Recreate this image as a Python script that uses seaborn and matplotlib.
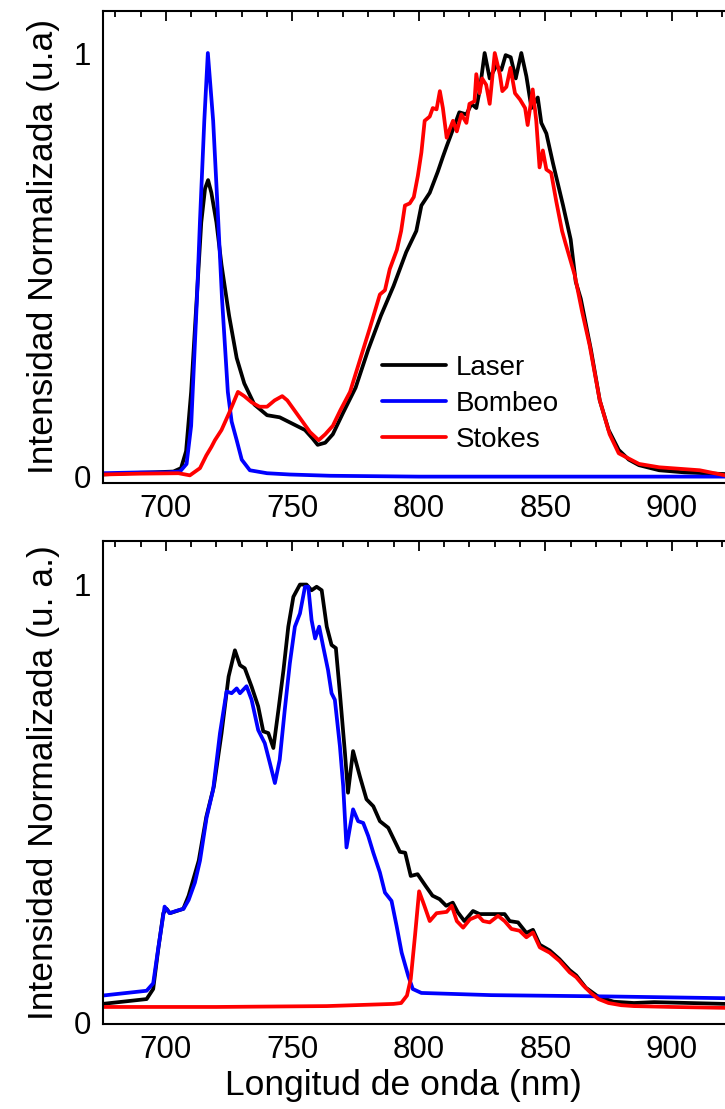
import numpy as np
import pandas as pd
import matplotlib
matplotlib.use("Agg")
import matplotlib.pyplot as plt
from matplotlib.ticker import MultipleLocator, FixedLocator
import seaborn as sns

# ---------------- data ----------------
# Top panel
wl_laser_top = [675, 685, 695, 703, 706, 708, 710, 712, 714, 715.5, 716.7, 718, 720, 722, 725, 728, 731, 735,
                740, 745, 750, 755, 758, 760, 763, 766, 770, 775, 780, 785, 790, 795, 799, 801, 804.3, 807.5,
                809.5, 811, 813.5, 816, 818.8, 820.8, 822.7, 824, 826, 828, 830.6, 832.6, 834.3, 836.3, 838.3,
                840.5, 842.5, 844.5, 847, 848.4, 850.4, 853, 855, 857, 860, 862, 864, 868, 871.5, 875, 879, 883,
                887, 895, 905, 921]
laser_top = [0.005, 0.008, 0.01, 0.012, 0.02, 0.06, 0.2, 0.4, 0.6, 0.68, 0.70, 0.67, 0.60, 0.50, 0.38, 0.28, 0.22,
             0.17, 0.145, 0.14, 0.125, 0.11, 0.09, 0.075, 0.08, 0.1, 0.15, 0.21, 0.30, 0.38, 0.45, 0.53, 0.58, 0.64,
             0.67, 0.72, 0.755, 0.78, 0.82, 0.86, 0.855, 0.88, 0.87, 0.91, 1.0, 0.94, 0.97, 0.96, 0.995, 0.99, 0.94,
             1.0, 0.945, 0.87, 0.895, 0.835, 0.81, 0.74, 0.69, 0.64, 0.56, 0.46, 0.42, 0.30, 0.18, 0.11, 0.063,
             0.04, 0.027, 0.015, 0.01, 0.006]

wl_bombeo_top = [675, 690, 700, 705.6, 708.2, 710, 712.3, 713.5, 715.2, 716.6, 718.7, 720.7, 722.2, 724.5, 726,
                 728, 730, 733.2, 740, 749, 765, 800, 850, 900, 921]
bombeo_top = [0.008, 0.01, 0.01, 0.012, 0.03, 0.12, 0.42, 0.605, 0.84, 1.0, 0.84, 0.605, 0.42, 0.2, 0.13, 0.086,
              0.04, 0.015, 0.008, 0.005, 0.002, 0.0, 0.0, 0.0, 0.0]

wl_stokes_top = [675, 690, 705, 709.5, 713.5, 716, 718, 719.4, 722, 725, 728.5, 731, 734, 737, 740, 743, 746, 748,
                 751, 754, 757, 760.4, 763, 766, 769, 772.8, 776.7, 780.6, 784.6, 786.6, 788.5, 791.3, 793, 794.5,
                 796.4, 798, 799.6, 801, 802.3, 804.3, 805.5, 807, 808.3, 809.5, 811, 812.2, 813.5, 815, 816.8,
                 818.8, 820, 822, 822.7, 824, 825, 826.6, 828, 830, 832, 833, 834.6, 836.2, 838, 840, 842, 843,
                 845, 846.4, 847.7, 849, 850.4, 852.3, 854.3, 856.6, 858, 861.6, 864.5, 867.5, 871.5, 875.4, 879,
                 887, 895, 911, 921]
stokes_top = [0.005, 0.007, 0.008, 0.003, 0.02, 0.05, 0.07, 0.086, 0.11, 0.15, 0.2, 0.19, 0.175, 0.165, 0.165,
              0.18, 0.19, 0.18, 0.155, 0.13, 0.105, 0.086, 0.1, 0.12, 0.157, 0.2, 0.275, 0.35, 0.43, 0.44, 0.49,
              0.535, 0.58, 0.64, 0.645, 0.66, 0.71, 0.765, 0.84, 0.85, 0.87, 0.867, 0.91, 0.87, 0.80, 0.82, 0.84,
              0.815, 0.855, 0.835, 0.88, 0.886, 0.95, 0.905, 0.94, 0.925, 0.88, 1.0, 0.95, 0.91, 0.92, 0.965, 0.905,
              0.89, 0.87, 0.83, 0.914, 0.84, 0.73, 0.77, 0.725, 0.717, 0.65, 0.58, 0.55, 0.476, 0.39, 0.31, 0.18,
              0.1, 0.055, 0.03, 0.022, 0.015, 0.003]

# Bottom panel
wl_laser_bot = [675, 692.4, 695, 697, 699, 700.3, 701.6, 704.3, 706.9, 709, 711, 713, 716, 719, 722, 724.8, 727.3,
                729.3, 731.2, 733.9, 736.5, 738.5, 740.5, 742.5, 744.5, 746.5, 748.4, 750.4, 753, 755.6, 757.6,
                759.6, 761.6, 763.6, 765.5, 767.2, 768.8, 770.8, 772, 774, 776.7, 779.3, 782, 784.6, 787.9, 790,
                792.5, 794.6, 796.8, 799.5, 802.7, 805.4, 808.2, 810.8, 813.4, 815.4, 818, 821.4, 824, 827, 830.6,
                833.9, 835.9, 839.2, 842.5, 845.1, 847.8, 851.7, 855.6, 859.6, 862.2, 866, 871, 877, 885, 893, 921]
laser_bot = [0.043, 0.054, 0.077, 0.168, 0.25, 0.26, 0.25, 0.255, 0.26, 0.29, 0.33, 0.37, 0.47, 0.54, 0.66, 0.79,
             0.85, 0.816, 0.809, 0.767, 0.722, 0.665, 0.661, 0.627, 0.714, 0.805, 0.904, 0.972, 1.0, 1.0, 0.987,
             0.995, 0.987, 0.904, 0.862, 0.855, 0.752, 0.615, 0.525, 0.62, 0.562, 0.51, 0.494, 0.46, 0.445, 0.42,
             0.39, 0.388, 0.335, 0.339, 0.312, 0.29, 0.282, 0.267, 0.274, 0.252, 0.232, 0.255, 0.248, 0.248, 0.248,
             0.248, 0.232, 0.229, 0.205, 0.212, 0.178, 0.165, 0.145, 0.12, 0.108, 0.08, 0.059, 0.048, 0.045, 0.047,
             0.043]

wl_bombeo_bot = [675, 692.4, 695, 697, 699.5, 701.5, 704, 707, 709, 711.5, 713.5, 716.1, 718.7, 721.4, 724, 726,
                 728, 729.3, 731.9, 733.9, 736.5, 739.1, 741.1, 743.1, 745, 747, 749, 751, 753, 755, 756.3, 757.6,
                 759, 760.6, 762.2, 764.1, 765.5, 766.8, 768.8, 770.1, 771.4, 774, 776, 778, 780, 782, 784.6, 786.6,
                 789.2, 791.2, 793.2, 795.8, 797.6, 801, 828.6, 875, 921]
bombeo_bot = [0.062, 0.073, 0.09, 0.17, 0.265, 0.25, 0.255, 0.26, 0.28, 0.32, 0.37, 0.468, 0.532, 0.661, 0.756,
              0.752, 0.763, 0.752, 0.768, 0.737, 0.668, 0.638, 0.593, 0.547, 0.60, 0.714, 0.82, 0.904, 0.934, 0.995,
              0.995, 0.919, 0.877, 0.904, 0.858, 0.805, 0.752, 0.737, 0.631, 0.54, 0.40, 0.487, 0.46, 0.456, 0.426,
              0.388, 0.343, 0.297, 0.278, 0.221, 0.16, 0.107, 0.077, 0.068, 0.063, 0.06, 0.056]

wl_stokes_bot = [675, 720, 763.6, 790, 793, 795.3, 796.8, 798.5, 800.1, 802, 804.3, 807, 811, 813, 815, 817.5,
                 820.2, 823.5, 825.4, 828, 831.3, 833.9, 836.6, 839.8, 842.5, 845.1, 847.8, 851.7, 855.6, 859.6,
                 862.2, 865, 868, 871, 875, 880, 885, 900, 921]
stokes_bot = [0.036, 0.036, 0.038, 0.043, 0.045, 0.062, 0.1, 0.2, 0.30, 0.27, 0.232, 0.25, 0.253, 0.267, 0.232,
              0.217, 0.236, 0.244, 0.232, 0.229, 0.244, 0.232, 0.214, 0.21, 0.195, 0.206, 0.172, 0.16, 0.141, 0.115,
              0.104, 0.085, 0.068, 0.054, 0.045, 0.04, 0.038, 0.036, 0.034]

series_names = ["Laser", "Bombeo", "Stokes"]
colors = {"Laser": "#000000", "Bombeo": "#0000ff", "Stokes": "#ff0000"}
ylabels = ["Intensidad Normalizada (u.a)", "Intensidad Normalizada (u. a.)"]
xlabel = "Longitud de onda (nm)"
xticks = [700, 750, 800, 850, 900]
yticks = [0, 1]

# ---------------- styling ----------------
sns.set_theme(style="white")
plt.rcParams["font.family"] = ["Liberation Sans", "DejaVu Sans"]
plt.rcParams["axes.edgecolor"] = "black"
plt.rcParams["axes.linewidth"] = 1.5
plt.rcParams["text.color"] = "black"
plt.rcParams["axes.labelcolor"] = "black"

fig = plt.figure(figsize=(7.25, 11.09), dpi=100)
ax_top = fig.add_axes([0.1415, 0.5645, 0.8585, 0.4259])
ax_bot = fig.add_axes([0.1415, 0.0766, 0.8585, 0.4358])

panels = [
    (ax_top, [(wl_laser_top, laser_top), (wl_bombeo_top, bombeo_top), (wl_stokes_top, stokes_top)], (-0.015, 1.1)),
    (ax_bot, [(wl_laser_bot, laser_bot), (wl_bombeo_bot, bombeo_bot), (wl_stokes_bot, stokes_bot)], (-0.003, 1.1)),
]

LW = 2.7
for i, (ax, data, ylim) in enumerate(panels):
    for name, (wl, val) in zip(series_names, data):
        df = pd.DataFrame({"wl": wl, "val": val})
        sns.lineplot(data=df, x="wl", y="val", ax=ax, color=colors[name], linewidth=LW,
                     label=name if i == 0 else None, errorbar=None, sort=False,
                     solid_joinstyle="round", solid_capstyle="round")
    ax.set_xlim(675, 921)
    ax.set_ylim(*ylim)
    ax.xaxis.set_major_locator(FixedLocator(xticks))
    ax.xaxis.set_minor_locator(MultipleLocator(10))
    ax.yaxis.set_major_locator(FixedLocator(yticks))
    ax.yaxis.set_minor_locator(FixedLocator([0.2, 0.4, 0.6, 0.8]))
    ax.tick_params(axis="both", which="both", direction="in", top=True, right=False,
                   labelsize=22.5, colors="black", width=1.3)
    ax.tick_params(axis="both", which="major", length=7, pad=8)
    ax.tick_params(axis="both", which="minor", length=4)
    ax.spines["right"].set_visible(False)
    for s in ["left", "top", "bottom"]:
        ax.spines[s].set_color("black")
    ax.set_ylabel(ylabels[i], fontsize=25.5, color="black")
    ax.yaxis.set_label_coords(-0.068, 0.5)
    ax.set_xlabel("")

ax_bot.set_xlabel(xlabel, fontsize=25.5, color="black")
ax_bot.xaxis.set_label_coords(0.484, -0.092)

leg = ax_top.legend(loc="center left", bbox_to_anchor=(0.449, 0.168), frameon=False, fontsize=20,
                    handlelength=2.3, handletextpad=0.35, labelspacing=0.36, borderpad=0, borderaxespad=0)
for line in leg.get_lines():
    line.set_linewidth(LW)
for t in leg.get_texts():
    t.set_color("black")

fig.savefig("out.png", dpi=100)
